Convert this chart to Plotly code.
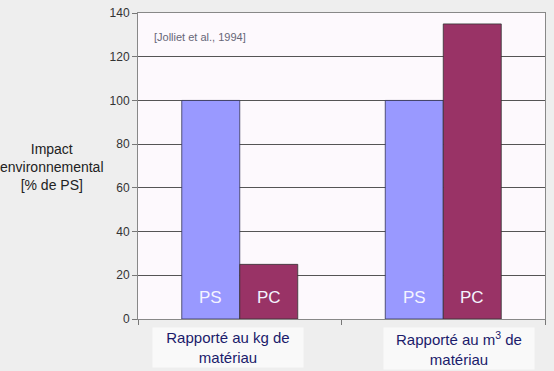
import plotly.graph_objects as go

categories = ["kg", "m3"]
category_labels = ["Rapporté au kg de<br>matériau", "Rapporté au m<sup>3</sup> de<br>matériau"]
ps_values = [100, 100]
pc_values = [25, 135]
y_ticks = [0, 20, 40, 60, 80, 100, 120, 140]

W, H = 554, 371
ML, MR, MT, MB = 138, 9, 13, 52
PW, PH = W - ML - MR, H - MT - MB

BARGAP = 0.43
bar_w = (1 - BARGAP) / 2

fig = go.Figure()
fig.add_trace(go.Bar(
    x=categories, y=ps_values, name="PS",
    marker=dict(color="#9999ff", line=dict(color="#333355", width=0.8)),
))
fig.add_trace(go.Bar(
    x=categories, y=pc_values, name="PC",
    marker=dict(color="#993366", line=dict(color="#333333", width=0.8)),
))

fig.update_layout(
    width=W, height=H,
    margin=dict(l=ML, r=MR, t=MT, b=MB, autoexpand=False),
    paper_bgcolor="#eeeeee",
    plot_bgcolor="#fdf9fd",
    barmode="group", bargap=BARGAP, bargroupgap=0,
    showlegend=False,
    font=dict(family="Liberation Sans, Arial", color="#333333"),
)
fig.update_yaxes(
    range=[0, 140], tickvals=y_ticks, showgrid=True, gridcolor="#555555", gridwidth=1,
    ticks="outside", ticklen=5, tickcolor="#777777", showline=True, linecolor="#888888",
    mirror=True, tickfont=dict(size=12, color="#333333"), zeroline=False, automargin=False,
)
fig.update_xaxes(
    showticklabels=False, ticks="outside", tickson="boundaries", ticklen=5,
    tickcolor="#777777", showline=True, linecolor="#888888", mirror=True, automargin=False,
)

# PS / PC labels inside bars near the bottom
for i, c in enumerate(categories):
    for label, off in (("PS", -bar_w / 2), ("PC", bar_w / 2)):
        fig.add_annotation(
            x=i + off, y=10, xref="x", yref="y", text=label, showarrow=False,
            xanchor="center", yanchor="middle",
            font=dict(size=17, color="#f4f4ff"),
        )

label_shifts = [-12, 16]
for i, lab in enumerate(category_labels):
    fig.add_annotation(
        x=i, y=0, xref="x", yref="paper", xanchor="center", yanchor="top",
        yshift=-8, xshift=label_shifts[i],
        text=lab, showarrow=False, bgcolor="#f9f9f9", borderpad=1,
        font=dict(size=15, color="#1b1b6b"),
        width=148,
    )

fig.add_annotation(
    x=(52 - ML) / PW, y=(H - MB - 167) / PH, xref="paper", yref="paper",
    xanchor="center", yanchor="middle",
    text="Impact<br>environnemental<br>[% de PS]",
    showarrow=False, font=dict(size=14, color="#222222"),
)

fig.add_annotation(
    x=(152 - ML) / PW, y=(H - MB - 37) / PH, xref="paper", yref="paper",
    xanchor="left", yanchor="middle",
    text="[Jolliet et al., 1994]", showarrow=False,
    font=dict(size=11, color="#666677"),
)

fig.write_html(
    "out.html",
    config={"displayModeBar": False},
    post_script="document.body.style.margin='0';document.body.style.overflow='hidden';",
)
